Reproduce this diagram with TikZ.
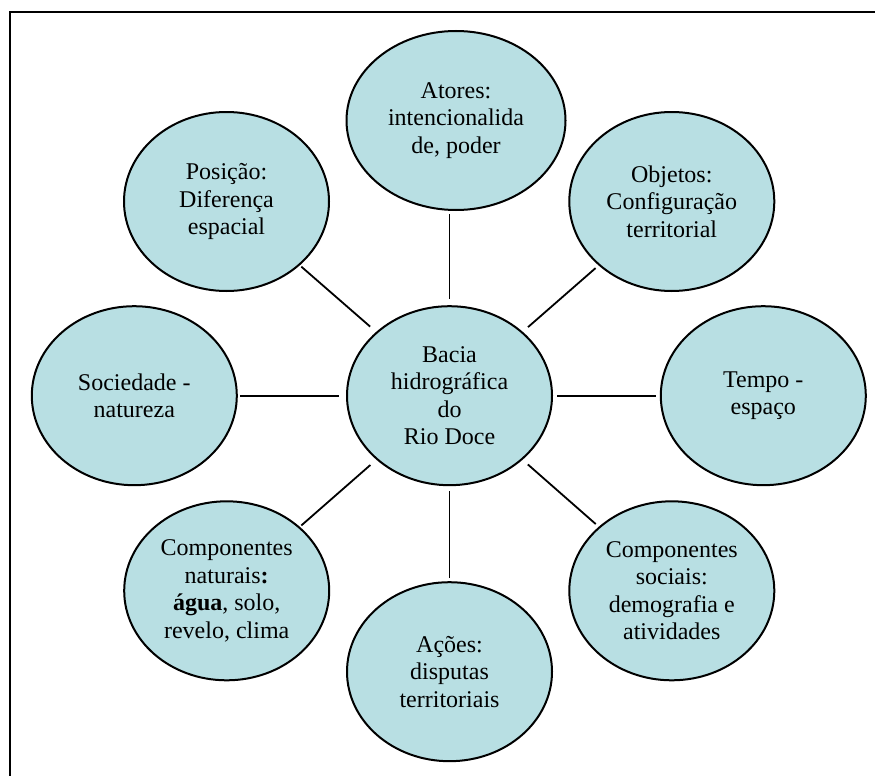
\documentclass[tikz,border=0pt]{standalone}
\usepackage{fontspec}
\setmainfont{Liberation Serif}
\usetikzlibrary{shapes.geometric}
\definecolor{bubblefill}{RGB}{184,223,227}
\begin{document}
\begin{tikzpicture}[x=1pt,y=-1pt,
  bubble/.style={ellipse, draw=black, line width=2pt, fill=bubblefill,
    inner sep=0pt, minimum width=205pt, minimum height=179pt,
    align=center, font=\fontsize{24}{27.5}\selectfont},
  link/.style={line width=1.8pt},
  frame/.style={line width=2.8pt}]
\useasboundingbox (0,0) rectangle (875,776);
\coordinate (tr) at (875,12);
\coordinate (tl) at (10,12);
\coordinate (bl) at (10,776);
\draw[frame] (tr) -- (tl) -- (bl);

\node[bubble, minimum width=219pt] (atores) at (456,120.5) {Atores:\\intencionalida\\de, poder};
\node[bubble] (posicao) at (226.5,201.5) {Posição:\\Diferença\\espacial};
\node[bubble] (objetos) at (671.8,201.5) {Objetos:\\Configuração\\territorial};
\node[bubble] (sociedade) at (134.3,395.7) {Sociedade -\\natureza};
\node[bubble] (bacia) at (449.5,395.7) {Bacia\\hidrográfica\\do\\Rio Doce};
\node[bubble] (tempo) at (763.3,395.7) {Tempo -\\espaço};
\node[bubble] (naturais) at (226.7,590.8) {Componentes\\naturais\textbf{:}\\\textbf{água}, solo,\\revelo, clima};
\node[bubble] (acoes) at (449.5,671.7) {Ações:\\disputas\\territoriais};
\node[bubble] (sociais) at (671.8,590.8) {Componentes\\sociais:\\demografia e\\atividades};

\draw[link, shorten <=2pt, shorten >=8pt] (posicao) -- (bacia);
\draw[link, shorten <=3pt, shorten >=6pt] (atores.south -| bacia.north) -- (bacia.north);
\draw[link, shorten <=4pt, shorten >=7pt] (objetos) -- (bacia);
\draw[link, shorten <=2pt, shorten >=7pt] (sociedade) -- (bacia);
\draw[link, shorten <=4pt, shorten >=4pt] (tempo) -- (bacia);
\draw[link, shorten <=2pt, shorten >=8pt] (naturais) -- (bacia);
\draw[link, shorten <=3pt, shorten >=5pt] (acoes) -- (bacia);
\draw[link, shorten <=4pt, shorten >=7pt] (sociais) -- (bacia);
\end{tikzpicture}
\end{document}
